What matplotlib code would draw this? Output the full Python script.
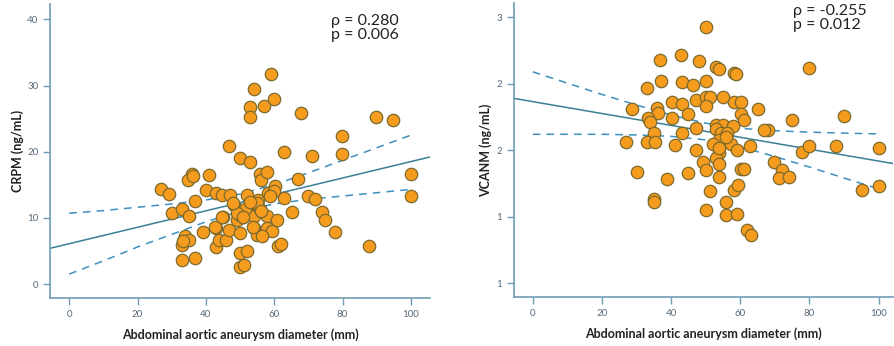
import numpy as np
import matplotlib.pyplot as plt

plt.rcParams['font.family'] = ['Lato', 'DejaVu Sans']

# CRPM vs diameter (left panel)
crpm_x = [26.9, 29.1, 30.0, 33.0, 35.0, 33.0, 33.0, 34.0, 35.0, 33.3,
          35.9, 34.9, 36.2, 36.9, 36.9, 39.3, 40.0, 40.9, 43.0, 43.0,
          43.0, 44.7, 43.7, 45.0, 46.0, 46.9, 46.8, 47.0, 48.1, 49.1,
          49.9, 49.9, 49.9, 49.9, 49.9, 51.1, 52.0, 50.8, 52.0, 53.0,
          53.0, 53.0, 54.0, 53.8, 54.2, 54.2, 55.0, 55.4, 55.9, 55.9,
          56.2, 56.9, 57.9, 57.9, 57.9, 58.3, 59.0, 59.4, 59.8, 60.1,
          59.8, 60.8, 61.0, 62.0, 62.9, 62.9, 65.2, 66.9, 67.9, 69.8,
          71.0, 72.0, 73.9, 74.9, 77.9, 79.8, 79.8, 87.6, 89.9, 94.9,
          100, 100, 51.5, 49.0, 54.9, 58.8, 56.3, 42.7, 53.9, 51.0,
          52.9, 48.0, 44.8, 56.0]
crpm_y = [14.4, 13.6, 10.7, 11.3, 10.3, 5.9, 3.7, 7.2, 6.7, 6.5,
          16.6, 15.7, 16.4, 12.5, 4.0, 7.8, 14.2, 16.5, 5.6, 8.5,
          13.8, 13.4, 6.6, 10.1, 6.6, 8.2, 20.8, 13.5, 12.0, 9.6,
          19.1, 10.4, 7.7, 4.7, 2.6, 2.8, 5.0, 10.1, 13.5, 18.4,
          26.7, 25.2, 29.5, 12.3, 10.3, 8.5, 7.4, 12.7, 11.3, 16.7,
          15.7, 26.9, 17.0, 10.3, 8.5, 13.8, 31.8, 8.0, 28.0, 14.8,
          14.0, 9.7, 5.8, 6.0, 13.0, 19.9, 10.9, 15.9, 25.9, 13.3,
          19.3, 12.8, 10.9, 9.6, 7.9, 22.4, 19.6, 5.8, 25.3, 24.8,
          16.6, 13.3, 11.4, 10.7, 12.3, 13.3, 7.2, 8.6, 8.6, 10.1,
          12.4, 12.2, 10.1, 11.0]
crpm_fit_x = [-5.6, 105.6]
crpm_fit_y = [5.4, 19.2]
ci_x = [0, 10, 20, 30, 40, 50, 60, 70, 80, 90, 100]
crpm_ci_hi = [10.7, 11.1, 11.6, 12.1, 12.7, 13.6, 15.0, 16.8, 18.7, 20.6, 22.5]
crpm_ci_lo = [1.5, 3.5, 5.6, 7.5, 9.4, 11.0, 12.1, 12.8, 13.3, 13.8, 14.3]

# VCANM vs diameter (right panel)
vcanm_x = [50.0, 43.0, 36.9, 48.1, 52.9, 54.0, 58.2, 58.8, 80.0, 37.0,
           43.2, 46.2, 50.0, 33.1, 28.8, 36.0, 36.3, 40.2, 43.3, 47.3,
           50.0, 51.2, 50.0, 55.0, 58.2, 60.3, 60.1, 61.1, 65.1, 44.9,
           33.2, 34.0, 40.2, 47.1, 43.3, 35.0, 33.1, 35.3, 27.1, 41.1,
           47.1, 53.0, 55.0, 57.9, 53.0, 54.5, 56.3, 54.0, 52.1, 57.2,
           59.0, 62.9, 56.0, 54.0, 52.9, 54.0, 74.9, 68.0, 67.0, 77.9,
           80.0, 87.7, 89.9, 100, 69.9, 72.0, 71.1, 74.0, 49.1, 50.0,
           54.0, 60.1, 61.1, 30.2, 38.9, 44.9, 51.2, 58.1, 59.3, 35.1,
           35.1, 56.0, 50.0, 56.0, 59.0, 62.0, 63.2, 95.2, 100, 53.8]
vcanm_y = [2.43, 2.22, 2.18, 2.17, 2.13, 2.11, 2.08, 2.07, 2.12, 2.02,
           2.01, 1.99, 2.02, 1.97, 1.81, 1.82, 1.78, 1.86, 1.85, 1.88,
           1.90, 1.90, 1.83, 1.90, 1.86, 1.86, 1.77, 1.73, 1.81, 1.77,
           1.74, 1.71, 1.74, 1.67, 1.63, 1.63, 1.56, 1.56, 1.56, 1.54,
           1.50, 1.69, 1.69, 1.68, 1.66, 1.63, 1.63, 1.58, 1.55, 1.55,
           1.50, 1.53, 1.60, 1.48, 1.44, 1.40, 1.73, 1.65, 1.65, 1.49,
           1.53, 1.53, 1.76, 1.52, 1.41, 1.35, 1.29, 1.30, 1.41, 1.35,
           1.30, 1.36, 1.36, 1.34, 1.28, 1.33, 1.19, 1.20, 1.24, 1.13,
           1.11, 1.11, 1.05, 1.01, 1.02, 0.90, 0.86, 1.20, 1.23, 1.52]
vcanm_fit_x = [-5.4, 104.2]
vcanm_fit_y = [1.89, 1.40]
vcanm_ci_hi = [2.09, 2.005, 1.92, 1.84, 1.765, 1.704, 1.665, 1.647, 1.636, 1.629, 1.623]
vcanm_ci_lo = [1.62, 1.62, 1.62, 1.615, 1.605, 1.578, 1.525, 1.453, 1.374, 1.291, 1.21]
vcanm_ticks = [0.5, 1.0, 1.5, 2.0, 2.5]
vcanm_ticklabels = ['1', '1', '2', '2', '3']

xticks = [0, 20, 40, 60, 80, 100]
spine_c = '#6d9cb3'
dot_c = '#f59b1e'
edge_c = '#7d6a2c'
line_c = '#3b7f96'
dash_c = '#3d8fbf'

fig = plt.figure(figsize=(8.94, 3.46), dpi=100)
ax1 = fig.add_axes([0.056, 0.139, 0.425, 0.849])
ax2 = fig.add_axes([0.575, 0.142, 0.424, 0.849])

def style(ax, xlim, ylim):
    ax.set_xlim(*xlim)
    ax.set_ylim(*ylim)
    for s in ['top', 'right']:
        ax.spines[s].set_visible(False)
    for s in ['left', 'bottom']:
        ax.spines[s].set_color(spine_c)
        ax.spines[s].set_linewidth(1.2)
    ax.tick_params(colors=spine_c, labelcolor='#56697a', labelsize=7, length=5, width=1)
    ax.set_xticks(xticks)
    ax.set_xlabel('Abdominal aortic aneurysm diameter (mm)', fontsize=9, fontweight='bold',
                  color='#222222', labelpad=7)

# left
ax1.plot(crpm_fit_x, crpm_fit_y, color=line_c, lw=1.1, zorder=1)
ax1.plot(ci_x, crpm_ci_hi, color=dash_c, lw=1.1, ls=(0, (5, 4)), zorder=1)
ax1.plot(ci_x, crpm_ci_lo, color=dash_c, lw=1.1, ls=(0, (5, 4)), zorder=1)
ax1.scatter(crpm_x, crpm_y, s=80, color=dot_c, edgecolor=edge_c, linewidth=0.9, zorder=2)
style(ax1, (-5.6, 105.6), (-2.1, 42.3))
ax1.set_yticks([0, 10, 20, 30, 40])
ax1.set_ylabel('CRPM (ng/mL)', fontsize=9, fontweight='bold', color='#222222', labelpad=2)
ax1.text(0.74, 0.965, 'ρ = 0.280\np = 0.006', transform=ax1.transAxes, fontsize=11.5,
         va='top', ha='left', color='#222222', linespacing=1.0)

# right
ax2.plot(vcanm_fit_x, vcanm_fit_y, color=line_c, lw=1.1, zorder=1)
ax2.plot(ci_x, vcanm_ci_hi, color=dash_c, lw=1.1, ls=(0, (5, 4)), zorder=1)
ax2.plot(ci_x, vcanm_ci_lo, color=dash_c, lw=1.1, ls=(0, (5, 4)), zorder=1)
ax2.scatter(vcanm_x, vcanm_y, s=80, color=dot_c, edgecolor=edge_c, linewidth=0.9, zorder=2)
style(ax2, (-5.4, 104.2), (0.397, 2.607))
ax2.set_yticks(vcanm_ticks)
ax2.set_yticklabels(vcanm_ticklabels)
ax2.set_ylabel('VCANM (ng/mL)', fontsize=9, fontweight='bold', color='#222222', labelpad=3)
ax2.text(0.735, 0.998, 'ρ = -0.255\np = 0.012', transform=ax2.transAxes, fontsize=11.5,
         va='top', ha='left', color='#222222', linespacing=1.0)

fig.savefig('out.png', dpi=100)
